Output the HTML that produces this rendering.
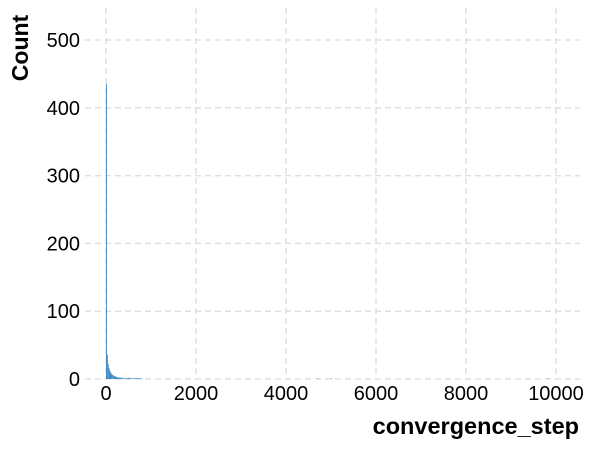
<!DOCTYPE html>
<html><head><meta charset="utf-8"><style>
body{margin:0;background:#fff;font-family:"Liberation Sans",Arial,sans-serif}
</style></head><body>
<svg id="c" width="596" height="447" xmlns="http://www.w3.org/2000/svg">
<g id="grid"></g><g id="bars"></g><g id="ticks"></g>
<text x="579" y="434" text-anchor="end" font-size="23.5" font-weight="bold">convergence_step</text>
<text transform="translate(28,48) rotate(-90)" text-anchor="middle" font-size="23" font-weight="bold">Count</text>
</svg>
<script>
const xTicks=[0,2000,4000,6000,8000,10000];
const yTicks=[0,100,200,300,400,500];
const binWidth=20;
const counts=[435,36,22,16,12,9,7,6,5,4,4,3,3,2,2,2,2,1,2,1,1,1,1,1,1,2,1,1,1,1,1,1,1,1,1,1,1,1,1,1];
const tailBins=[4700,5000,9800];
const tailCounts=[1,1,1];
const X=v=>106+v*0.045, Y=v=>379-v*0.678;
const ns="http://www.w3.org/2000/svg";
const g=document.getElementById('grid'),b=document.getElementById('bars'),t=document.getElementById('ticks');
function mk(tag,a,p){const e=document.createElementNS(ns,tag);for(const k in a)e.setAttribute(k,a[k]);p.appendChild(e);return e;}
xTicks.forEach(v=>{const l=mk('line',{x1:X(v),x2:X(v),y1:8,y2:379,stroke:'#e0e0e0','stroke-width':1.5,'stroke-dasharray':'6,4'},g);


const s=mk('text',{x:X(v),y:400,'text-anchor':'middle','font-size':20},t);s.textContent=v;

});
yTicks.forEach(v=>{const l=mk('line',{x1:85,x2:580,y1:Y(v),y2:Y(v),stroke:'#e0e0e0','stroke-width':1.5,'stroke-dasharray':'6,4'},g);


const s=mk('text',{x:80,y:Y(v)+7,'text-anchor':'end','font-size':20},t);s.textContent=v;

});
counts.forEach((c,i)=>{const r=mk('rect',{x:X(i*binWidth),y:Y(c),width:Math.max(0.9,X(binWidth)-X(0)),height:Y(0)-Y(c),fill:'#3a86c0'},b);

});
tailBins.forEach((v,i)=>{const r=mk('rect',{x:X(v),y:Y(tailCounts[i]),width:1,height:Y(0)-Y(tailCounts[i]),fill:'#3a86c0'},b);

});
</script>
</body></html>
